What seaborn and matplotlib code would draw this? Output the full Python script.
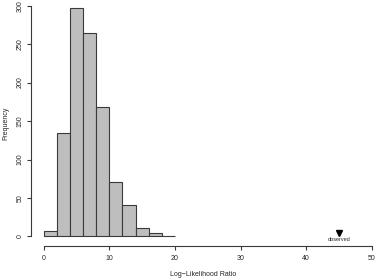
import numpy as np
import matplotlib
matplotlib.use("Agg")
import matplotlib.pyplot as plt
import seaborn as sns

# histogram counts (bins of width 2 from 0 to 20)
bin_edges = [0, 2, 4, 6, 8, 10, 12, 14, 16, 18, 20]
counts = [7, 135, 297, 265, 168, 71, 41, 11, 4, 1]
observed_value = 45
x_ticks = [0, 10, 20, 30, 40, 50]
y_ticks = [0, 50, 100, 150, 200, 250, 300]

sns.set_theme(style="white")
plt.rcParams["font.family"] = ["Liberation Sans", "DejaVu Sans"]

centers = [(a + b) / 2 for a, b in zip(bin_edges[:-1], bin_edges[1:])]

fig = plt.figure(figsize=(3.76, 2.78), dpi=100)
ax = fig.add_axes([30.6 / 376, (278 - 245.7) / 278, 1 - 30.6 / 376, 245.7 / 278])

sns.histplot(x=centers, weights=counts, bins=bin_edges, ax=ax,
             color="#BEBEBE", edgecolor="#3a3a3a", linewidth=0.8, alpha=1)

ax.set_xlim(-2, 50.65)
ax.set_ylim(-12, 307.4)

ax.plot([observed_value], [5], marker="v", color="black", markersize=4, linestyle="none")
ax.text(observed_value, -1, "observed", ha="center", va="top", fontsize=4)

for side in ["top", "right"]:
    ax.spines[side].set_visible(False)
ax.spines["bottom"].set_bounds(0, 50)
ax.spines["left"].set_bounds(0, 300)
for side in ["bottom", "left"]:
    ax.spines[side].set_color("#3a3a3a")
    ax.spines[side].set_linewidth(0.8)

ax.set_xticks(x_ticks)
ax.set_yticks(y_ticks)
ax.set_yticklabels([str(v) for v in y_ticks], rotation=90, va="center")
ax.tick_params(axis="both", direction="out", length=3.2, width=0.8,
               color="#3a3a3a", labelsize=5, bottom=True, left=True)
ax.tick_params(axis="x", pad=3.2)
ax.tick_params(axis="y", pad=2.0)

ax.set_xlabel("Log\u2212Likelihood Ratio", fontsize=5, labelpad=7)
ax.set_ylabel("Frequency", fontsize=5, labelpad=5)
ax.grid(False)

fig.savefig("out.png", dpi=100)
